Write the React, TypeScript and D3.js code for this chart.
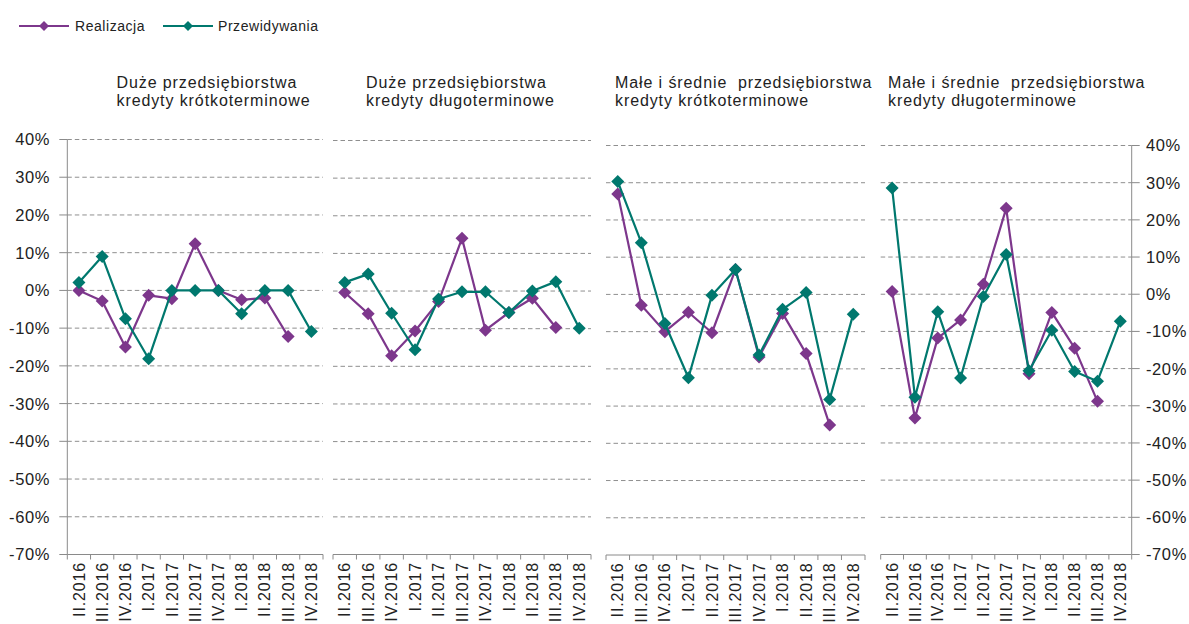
import React from "react";
import * as d3 from "d3";

const categories = ["II.2016", "III.2016", "IV.2016", "I.2017", "II.2017", "III.2017", "IV.2017", "I.2018", "II.2018", "III.2018", "IV.2018"];
const yTicks = [40, 30, 20, 10, 0, -10, -20, -30, -40, -50, -60, -70];
const seriesNames = ["Realizacja", "Przewidywania"];

const titles1 = ["Duże przedsiębiorstwa", "kredyty krótkoterminowe"];
const titles2 = ["Duże przedsiębiorstwa", "kredyty długoterminowe"];
const titles3 = ["Małe i średnie  przedsiębiorstwa", "kredyty krótkoterminowe"];
const titles4 = ["Małe i średnie  przedsiębiorstwa", "kredyty długoterminowe"];

const real1 = [0, -2.8, -15, -1.3, -2.2, 12.4, 0, -2.5, -2, -12.2, null];
const pred1 = [2.1, 9, -7.5, -18.1, 0, 0, 0, -6.2, 0, 0, -10.9];
const real2 = [-0.4, -6, -17.2, -10.6, -2.8, 14, -10.4, -5.7, -1.9, -9.7, null];
const pred2 = [2.3, 4.5, -5.9, -15.6, -2.1, -0.2, -0.2, -5.7, 0, 2.5, -9.9];
const real3 = [27, -2.9, -10, -4.8, -10.3, 6.7, -16.8, -5.1, -15.9, -35.1, null];
const pred3 = [30.3, 13.9, -7.8, -22.4, -0.2, 6.7, -16.3, -4, 0.5, -28.2, -5.3];
const real4 = [0.7, -33.3, -11.8, -6.9, 2.7, 23.1, -21.4, -4.9, -14.5, -28.8, null];
const pred4 = [28.6, -27.7, -4.7, -22.5, -0.6, 10.7, -20.6, -9.7, -20.8, -23.4, -7.3];

const COLORS = ["#7d378c", "#00786e"];
const GRID = "#8f8f8f";
const AXIS = "#8a8a8a";
const TEXT = "#222";
const FONT = "'Liberation Sans', Arial, sans-serif";

type Panel = {
  titles: string[];
  real: (number | null)[];
  pred: (number | null)[];
  x0: number;
  x1: number;
  yTop: number;
  yBot: number;
  titleX: number;
  leftAxis?: boolean;
  rightAxis?: boolean;
};

const panels: Panel[] = [
  { titles: titles1, real: real1, pred: pred1, x0: 67.3, x1: 323, yTop: 139.5, yBot: 554.5, titleX: 116.5, leftAxis: true },
  { titles: titles2, real: real2, pred: pred2, x0: 333, x1: 591, yTop: 140.5, yBot: 554.5, titleX: 366 },
  { titles: titles3, real: real3, pred: pred3, x0: 606, x1: 865, yTop: 145.5, yBot: 555, titleX: 615 },
  { titles: titles4, real: real4, pred: pred4, x0: 880.7, x1: 1131.7, yTop: 145.5, yBot: 554.5, titleX: 888, rightAxis: true },
];

const diamond = (s: number) => `M0,${-s}L${s},0L0,${s}L${-s},0Z`;

function PanelView({ p }: { p: Panel }) {
  const x = d3.scaleBand<string>().domain(categories).range([p.x0, p.x1]).padding(0);
  const y = d3.scaleLinear().domain([-70, 40]).range([p.yBot, p.yTop]);
  const cx = (i: number) => (x(categories[i]) as number) + x.bandwidth() / 2;
  const line = d3
    .line<number | null>()
    .defined((d) => d != null)
    .x((_, i) => cx(i))
    .y((d) => y(d as number));
  const series = [p.real, p.pred];
  const boundaries = categories.map((c) => x(c) as number).concat([p.x1]);
  return (
    <g>
      {p.titles.map((t, i) => (
        <text key={i} x={p.titleX} y={88 + i * 18} fontSize={16} letterSpacing={0.9} fill={TEXT} fontFamily={FONT} style={{ whiteSpace: "pre" }}>
          {t}
        </text>
      ))}
      {yTicks
        .filter((v) => v !== -70)
        .map((v) => (
          <line key={v} x1={p.x0} x2={p.x1} y1={y(v)} y2={y(v)} stroke={GRID} strokeWidth={1} strokeDasharray="4.5,3" />
        ))}
      <line x1={p.x0} x2={p.x1} y1={y(-70)} y2={y(-70)} stroke={AXIS} strokeWidth={1} />
      {boundaries.map((b, i) => (
        <line key={i} x1={b} x2={b} y1={y(-70)} y2={y(-70) + 5} stroke={AXIS} strokeWidth={1} />
      ))}
      {categories.map((c, i) => (
        <text
          key={c}
          transform={`translate(${cx(i) + 5.6},${y(-70) + 7.5}) rotate(-90)`}
          textAnchor="end"
          fontSize={16}
          letterSpacing={0.85}
          fill={TEXT}
          fontFamily={FONT}
        >
          {c}
        </text>
      ))}
      {p.leftAxis && (
        <g>
          <line x1={p.x0} x2={p.x0} y1={y(40)} y2={y(-70)} stroke={AXIS} strokeWidth={1} />
          {yTicks.map((v) => (
            <g key={v}>
              <line x1={p.x0 - 8} x2={p.x0} y1={y(v)} y2={y(v)} stroke={AXIS} strokeWidth={1} />
              <text x={50} y={y(v)} dy="0.36em" textAnchor="end" fontSize={16.5} letterSpacing={0.6} fill={TEXT} fontFamily={FONT}>
                {`${v}%`}
              </text>
            </g>
          ))}
        </g>
      )}
      {p.rightAxis && (
        <g>
          <line x1={p.x1} x2={p.x1} y1={y(40)} y2={y(-70)} stroke={AXIS} strokeWidth={1} />
          {yTicks.map((v) => (
            <g key={v}>
              <line x1={p.x1} x2={p.x1 + 8} y1={y(v)} y2={y(v)} stroke={AXIS} strokeWidth={1} />
              <text x={1146} y={y(v)} dy="0.36em" textAnchor="start" fontSize={16.5} letterSpacing={0.6} fill={TEXT} fontFamily={FONT}>
                {`${v}%`}
              </text>
            </g>
          ))}
        </g>
      )}
      {series.map((s, si) => (
        <g key={si}>
          <path d={line(s) || ""} fill="none" stroke={COLORS[si]} strokeWidth={2.2} strokeLinejoin="round" />
          {s.map((v, i) =>
            v == null ? null : (
              <path key={i} d={diamond(6.5)} transform={`translate(${cx(i)},${y(v)})`} fill={COLORS[si]} />
            )
          )}
        </g>
      ))}
    </g>
  );
}

export default function App() {
  const legendItems = [
    { name: seriesNames[0], color: COLORS[0], x0: 19, x1: 69, tx: 75 },
    { name: seriesNames[1], color: COLORS[1], x0: 163, x1: 213, tx: 218 },
  ];
  return (
    <svg width={1189} height={624} style={{ position: "absolute", left: 0, top: 0, background: "#fff" }}>
      <rect x={0} y={0} width={1189} height={624} fill="#fff" />
      {legendItems.map((l) => (
        <g key={l.name}>
          <line x1={l.x0} x2={l.x1} y1={26} y2={26} stroke={l.color} strokeWidth={2.2} />
          <path d={diamond(5)} transform={`translate(${(l.x0 + l.x1) / 2},26)`} fill={l.color} />
          <text x={l.tx} y={26} dy="0.36em" fontSize={14} letterSpacing={0.55} fill={TEXT} fontFamily={FONT}>
            {l.name}
          </text>
        </g>
      ))}
      {panels.map((p, i) => (
        <PanelView key={i} p={p} />
      ))}
    </svg>
  );
}
